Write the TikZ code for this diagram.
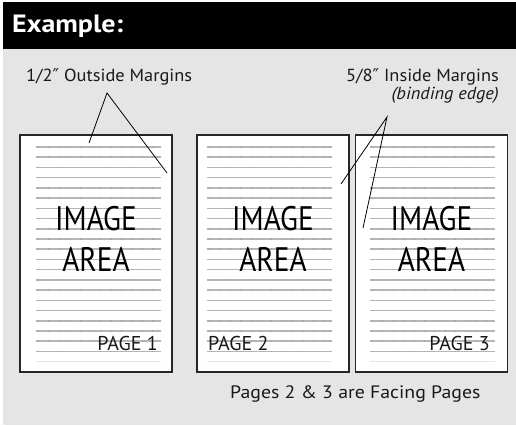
\documentclass[tikz,border=0pt]{standalone}
\usepackage{fontspec}
\setmainfont{PT Sans}
\newfontfamily\dv{DejaVu Sans}
\newfontfamily\bigfont[FakeStretch=0.86]{PT Sans}
\newfontfamily\titlefont[FakeStretch=1.12]{PT Sans}
\newfontfamily\lblfont[FakeStretch=1.05]{PT Sans}
\newfontfamily\botfont[FakeStretch=1.1]{PT Sans}
\definecolor{bgg}{HTML}{E5E5E5}
\definecolor{rule}{HTML}{B6B6B6}
\definecolor{tick}{HTML}{A4A4A4}
\begin{document}
\begin{tikzpicture}[x=1pt,y=-1pt,
  pagebox/.style={draw=black!85,line width=1.3pt,fill=white,minimum width=152pt,minimum height=237pt,inner sep=0pt,outer sep=0pt},
  ruleline/.style={draw=rule,line width=1.6pt},
  tickline/.style={draw=tick,line width=1.6pt,dash pattern=on 0.8pt off 9.6pt},
  big/.style={font=\bigfont\fontsize{34}{40}\selectfont,inner sep=0pt,anchor=base,text=black},
  pg/.style={font=\fontsize{20}{24}\selectfont,inner sep=0pt,text=black!90},
  lbl/.style={font=\lblfont\fontsize{17.5}{20}\selectfont,inner sep=0pt,text=black!90},
  leader/.style={draw=black,line width=0.8pt}]
\useasboundingbox (0,0) rectangle (516,427);
\fill[white] (0,0) rectangle (516,427);
\fill[bgg] (3,49) rectangle (516,425);
\fill[black] (3,2) rectangle (516,49);
\node[anchor=base west,inner sep=0pt,text=white,font=\titlefont\fontsize{25}{30}\selectfont\bfseries] (title) at (12,33) {Example:};

% pages
\node[pagebox] (p1) at (96,253.5) {};
\node[pagebox] (p2) at (273,253.5) {};
\node[pagebox] (p3) at (431.5,253.5) {};

% ruled lines
\foreach \xa/\xb in {36/161,207/332,370/495}{
  \foreach \k in {0,...,20}{
    \draw[ruleline] (\xa,{147+\k*10.22}) -- (\xb,{147+\k*10.22});
    \draw[tickline] (\xa+2,{147+\k*10.22}) -- (\xb,{147+\k*10.22});
  }
  \draw[draw=rule!35,line width=1.2pt] (\xa,{147+21*10.22}) -- (\xb,{147+21*10.22});
}

% image area text
\node[big] (i1) at (96,231) {IMAGE};
\node[big] (a1) at (96,272) {AREA};
\node[big] (i2) at (273,231) {IMAGE};
\node[big] (a2) at (273,272) {AREA};
\node[big] (i3) at (431.5,231) {IMAGE};
\node[big] (a3) at (431.5,272) {AREA};

\node[pg,anchor=base east] (n1) at (158,350) {PAGE 1};
\node[pg,anchor=base west] (n2) at (208,350) {PAGE 2};
\node[pg,anchor=base east] (n3) at (490,350) {PAGE 3};

% labels
\node[lbl,anchor=base west] (outl) at (26,82) {1/2{\dv ″}\ Outside Margins};
\node[lbl,anchor=base east] (inl) at (499,82) {5/8{\dv ″}\ Inside Margins};
\node[lbl,anchor=base east] (bind) at (499,100) {\itshape (binding edge)};
\node[lbl,anchor=base west,font=\botfont\fontsize{18}{21}\selectfont] (facing) at (230,398) {Pages 2 \& 3 are Facing Pages};

% leaders
\coordinate (ap1) at (107,93);
\coordinate (e1a) at (89,143);
\coordinate (e1b) at (167,173);
\coordinate (ap2) at (387,117);
\coordinate (e2a) at (341,184);
\coordinate (e2b) at (363,228);
\draw[leader] (e1a) -- (ap1) -- (e1b);
\draw[leader] (e2a) -- (ap2) -- (e2b);
\end{tikzpicture}
\end{document}
